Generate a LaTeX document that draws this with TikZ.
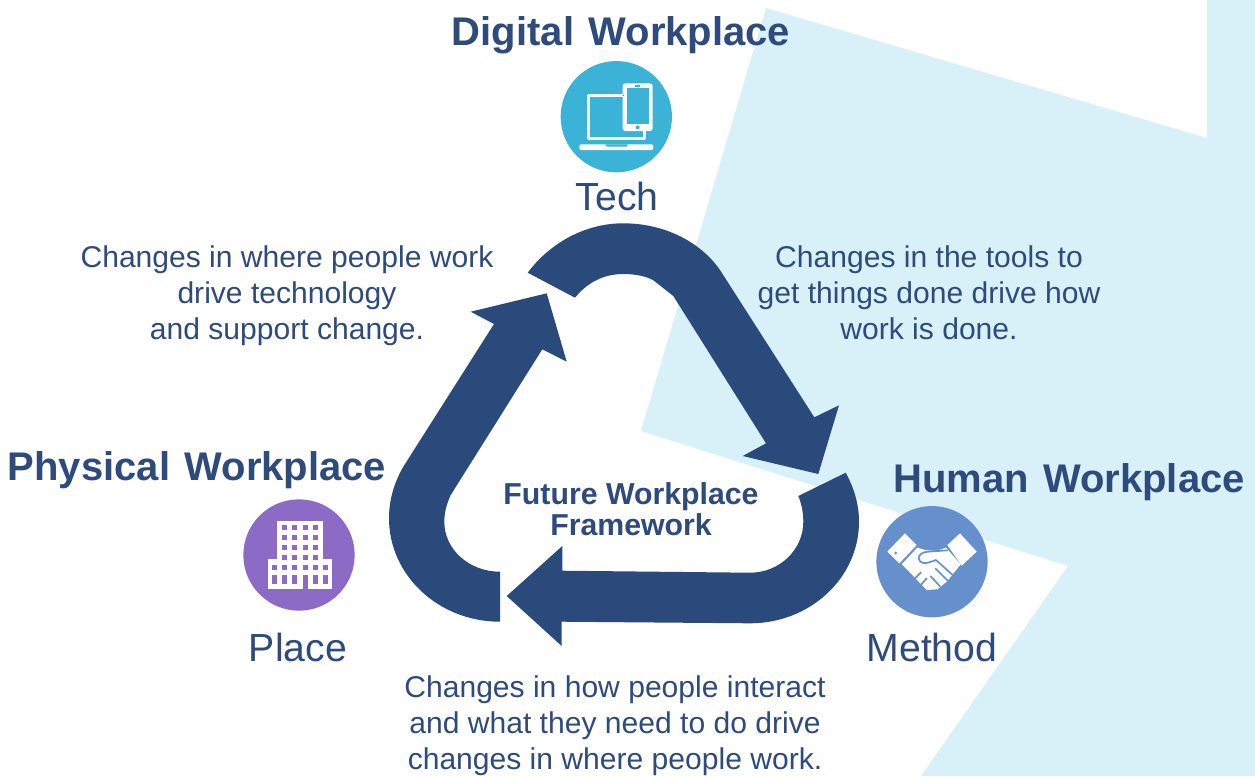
\documentclass[tikz,border=0pt]{standalone}
\usepackage{fontspec}
\setmainfont{Liberation Sans}
\definecolor{navy}{HTML}{2A4A7B}
\definecolor{txt}{HTML}{2F4B7C}
\definecolor{pale}{HTML}{D8F0F7}
\definecolor{cyanc}{HTML}{3AB3D6}
\definecolor{bluec}{HTML}{6690CC}
\definecolor{purplec}{HTML}{8C6BC6}
\newcommand{\wgap}{\hspace{2.5pt}}
\tikzset{
  body/.style={text=txt,align=center,font=\fontsize{22.55}{27}\selectfont,inner sep=0pt},
  head/.style={text=txt,align=center,font=\fontsize{30}{34}\selectfont\bfseries,inner sep=0pt},
  sub/.style={text=txt,align=center,font=\fontsize{29.4}{34}\selectfont,inner sep=0pt},
  core/.style={text=txt,align=center,font=\fontsize{22.7}{23.7}\selectfont\bfseries,inner sep=0pt},
  badge/.style={circle,minimum size=83.5pt,inner sep=0pt},
  band/.style={fill=navy,draw=none},
  crease/.style={bluec,line width=1.25pt,line cap=round,line join=round}
}
\begin{document}
\begin{tikzpicture}[x=.75pt,y=-.75pt]
\useasboundingbox (0,0) rectangle (1255,776);
\fill[white] (0,0) rectangle (1255,776);
\fill[pale] (766,8) -- (1207,138) -- (1207,0) -- (1255,0) -- (1255,776) -- (921,776) -- (1068,566) -- (641,431) -- cycle;
% arrows
\path[band] (527.7,272.7) .. controls (550,243) and (585,223.3) .. (623.3,223.3)
  .. controls (662,223.3) and (699,240) .. (720,270) -- (814.3,417.3) -- (839,405.3) -- (818.3,474)
  -- (742.7,456) -- (766,443.3) -- (673.3,296) -- (653,280)
  .. controls (645,276) and (635,274) .. (623.3,274)
  .. controls (603,274) and (587,283) .. (575,297.7) -- cycle;
\path[band] (845.7,472.7) .. controls (854,488) and (859,504) .. (859,521.7)
  .. controls (859,577.8) and (810.2,623.3) .. (750,623.3) -- (561.7,621.7) -- (561.7,646) -- (506.7,596)
  -- (562.3,546) -- (562.3,570.7) -- (750,572.7)
  .. controls (779.4,572.7) and (803.3,549.9) .. (803.3,521.7)
  .. controls (803.3,512) and (801.5,504) .. (798.3,496) -- cycle;
\path[band] (500,621.7) .. controls (438.7,621.7) and (389,575.4) .. (389,518.3)
  .. controls (389,500) and (394,483) .. (403.3,466.7) -- (494,324) -- (470.7,311.7) -- (546.7,293.3)
  -- (566.7,361.7) -- (542.3,349.3) -- (450.7,495)
  .. controls (447,503) and (444.3,512) .. (444.3,521.7)
  .. controls (444.3,549.3) and (469,571.7) .. (500,571.7) -- cycle;
% badges
\node[badge,fill=cyanc] (tech) at (616.3,116.7) {};
\node[badge,fill=bluec] (method) at (932,561.7) {};
\node[badge,fill=purplec] (place) at (299,555) {};
% laptop and phone
\begin{scope}[shift={(405pt,-37.5pt)},x=.25pt,y=-.25pt]
  \draw[white,line width=2.5pt,line join=round] (248,137) -- (145,137) -- (145,266) -- (313,266) -- (313,240);
  \fill[white,rounded corners=2pt] (248,100) rectangle (338,243);
  \fill[cyanc] (260,114) rectangle (327,222);
  \fill[cyanc] (285,105) rectangle (300,110);
  \fill[cyanc] (293,232) circle[radius=6];
  \fill[cyanc] (250,136) circle[radius=3];
  \fill[white,rounded corners=1.5pt] (118,283) rectangle (340,300);
  \fill[cyanc] (196,283) -- (264,283) -- (260,290) -- (200,290) -- cycle;
\end{scope}
% handshake
\begin{scope}[shift={(645pt,-371.25pt)},x=.25pt,y=-.25pt]
  \fill[white] (82,170) -- (135,115) -- (170,150) -- (118,205) -- cycle;
  \fill[white] (262,150) -- (300,115) -- (350,170) -- (305,212) -- cycle;
  \fill[bluec] (107,174) circle[radius=4.5];
  \fill[white,line join=round] (172,158) -- (125,208) -- (155,238) -- (200,285) -- (232,283)
    -- (262,258) -- (302,208) -- (258,158) -- (230,168) -- (195,165) -- cycle;
  \draw[crease] (262,166) -- (205,170) .. controls (188,170) and (175,180) .. (176,190)
     .. controls (178,204) and (195,208) .. (208,202) -- (228,195) -- (278,240);
  \draw[crease] (262,256) -- (226,220);
  \draw[crease] (240,274) -- (212,244);
  \draw[crease] (165,250) -- (183,232) (184,268) -- (200,250);
\end{scope}
% building
\begin{scope}[shift={(172.5pt,-367.5pt)},x=.25pt,y=-.25pt]
  \fill[white] (142,92) rectangle (278,210);
  \fill[white] (113,208) rectangle (306,296);
  \foreach \cx in {156,187,218,249}
    \foreach \ry in {104,134,165,195}
      \fill[purplec] (\cx,\ry) rectangle ++(15,15);
  \foreach \cx in {125,156,187,218,249,280}
    \fill[purplec] (\cx,224) rectangle ++(15,15);
  \foreach \cx in {125,156,187,249,280}
    \fill[purplec] (\cx,255) rectangle ++(15,28);
  \fill[purplec] (218,255) rectangle (233,296);
\end{scope}
% labels
\node[head] (digital) at (621,35) {Digital\wgap{} Workplace};
\node[sub] (techl) at (617,196) {Tech};
\node[head] (physical) at (197,470) {Physical\wgap{} Workplace};
\node[sub] (placel) at (298,647) {Place};
\node[head] (human) at (1069,482) {Human\wgap{} Workplace};
\node[sub] (methodl) at (932,647) {Method};
\node[core] (core) at (631,509) {Future Workplace\\Framework};
\node[body] (t1) at (287,296) {Changes in where people work\\drive technology\\and support change.};
\node[body] (t2) at (929,293) {Changes in the tools to\\get things done drive how\\work is done.};
\node[body] (t3) at (615,726) {Changes in how people interact\\and what they need to do drive\\changes in where people work.};
\end{tikzpicture}
\end{document}
